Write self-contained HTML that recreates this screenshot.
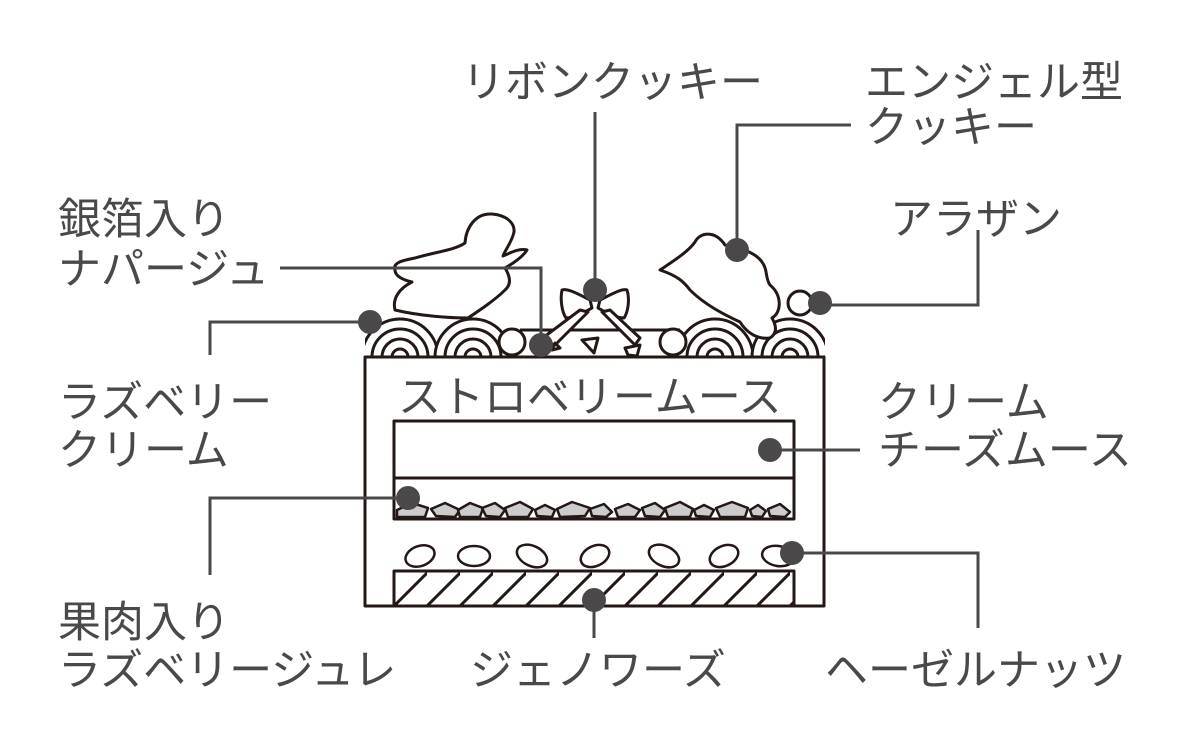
<!DOCTYPE html>
<html><head><meta charset="utf-8"><style>
html,body{margin:0;padding:0;background:#fff;}
svg{display:block;}
text{font-family:"Liberation Sans","Noto Sans CJK JP",sans-serif;font-size:43px;fill:#4a4848;}
</style></head><body>
<svg width="1200" height="752" viewBox="0 0 1200 752" xmlns="http://www.w3.org/2000/svg">
<defs>
<pattern id="hatch" patternUnits="userSpaceOnUse" width="33" height="40" patternTransform="translate(394,571)">
<line x1="-5" y1="40" x2="35" y2="0" stroke="#231815" stroke-width="3"/>
<line x1="28" y1="40" x2="68" y2="0" stroke="#231815" stroke-width="3"/>
</pattern>
<clipPath id="topclip"><rect x="365" y="250" width="460" height="107"/></clipPath>
</defs>
<g fill="none" stroke="#231815" stroke-width="3" stroke-linejoin="round">
<line x1="520" y1="330" x2="680" y2="330"/>
<g clip-path="url(#topclip)" fill="#fff">
<g><path d="M362 357 A38 38 0 0 1 438 357Z"/><path d="M372 357 A28 28 0 0 1 428 357"/><path d="M382 357 A18 18 0 0 1 418 357"/><path d="M392 357 A8 8 0 0 1 408 357"/></g>
<g><path d="M435 357 A38 38 0 0 1 511 357Z"/><path d="M445 357 A28 28 0 0 1 501 357"/><path d="M455 357 A18 18 0 0 1 491 357"/><path d="M465 357 A8 8 0 0 1 481 357"/></g>
<g><path d="M677 357 A38 38 0 0 1 753 357Z"/><path d="M687 357 A28 28 0 0 1 743 357"/><path d="M697 357 A18 18 0 0 1 733 357"/><path d="M707 357 A8 8 0 0 1 723 357"/></g>
<g><path d="M752 357 A38 38 0 0 1 828 357Z"/><path d="M762 357 A28 28 0 0 1 818 357"/><path d="M772 357 A18 18 0 0 1 808 357"/><path d="M782 357 A8 8 0 0 1 798 357"/></g>
</g>
<path fill="#fff" d="M395 270 C392 262 405 260 415 258 C435 252 455 250 465 243 C466 228 475 213 492 214 C505 215 515 222 514 232 C512 242 505 250 503 256 C512 252 520 248 527 250 C522 258 512 264 505 268 C510 276 512 284 505 290 C495 300 480 310 468 318 C450 318 420 316 395 310 C392 298 400 288 412 282 C403 280 395 276 395 270Z"/>
<path fill="#fff" d="M660 270 C672 262 688 252 695 242 C700 232 715 230 725 245 C740 248 755 252 762 262 C768 270 765 278 770 285 C782 295 782 312 772 318 C776 325 778 333 770 338 C755 340 745 330 740 322 C725 315 705 305 690 290 C684 282 678 276 660 270Z"/>
<path fill="#fff" d="M590 300 C580 295 568 288 562 290 C560 300 562 312 566 318 C575 318 585 312 592 308Z"/>
<path fill="#fff" d="M600 300 C610 295 622 288 627 290 C630 300 628 312 624 318 C615 318 605 312 598 308Z"/>
<path fill="#fff" d="M588 312 L555 345 L540 340 L580 310Z"/>
<path fill="#fff" d="M602 312 L635 345 L640 338 L610 310Z"/>
<path d="M555 343 L560 348 L552 350Z M582 340 L598 338 L594 353Z M625 348 L640 345 L637 356 L628 355Z"/>
<circle cx="512" cy="342" r="13" fill="#fff"/>
<circle cx="673" cy="342" r="13" fill="#fff"/>
<circle cx="800" cy="303" r="12" fill="#fff"/>
<rect x="365" y="357" width="459" height="249" fill="#fff"/>
<rect x="394" y="421" width="400" height="98"/>
<line x1="394" y1="478" x2="794" y2="478"/>
<rect x="394" y="571" width="400" height="35" fill="url(#hatch)"/>
<g fill="#ccc" stroke-width="2.5">
<path d="M397 510 L412 503 L428 508 L425 517 L397 517Z"/>
<path d="M431 509 L445 503 L460 510 L455 517 L436 516Z"/>
<path d="M458 510 L470 503 L483 508 L480 517 L460 517Z"/>
<path d="M482 508 L495 503 L505 510 L500 517 L486 516Z"/>
<path d="M505 508 L520 502 L533 509 L528 517 L508 517Z"/>
<path d="M535 510 L545 505 L555 510 L552 517 L537 516Z"/>
<path d="M557 509 L572 502 L590 508 L585 516 L560 517Z"/>
<path d="M590 509 L604 504 L612 512 L606 517 L592 516Z"/>
<path d="M615 509 L628 504 L640 510 L635 517 L618 517Z"/>
<path d="M642 508 L655 503 L665 510 L660 517 L645 516Z"/>
<path d="M665 508 L680 502 L693 509 L690 517 L668 517Z"/>
<path d="M694 510 L704 505 L714 510 L710 517 L696 516Z"/>
<path d="M716 508 L732 502 L748 508 L745 517 L720 517Z"/>
<path d="M750 510 L758 505 L766 511 L762 517 L752 516Z"/>
<path d="M768 509 L780 504 L790 512 L785 517 L770 516Z"/>
</g>
<g fill="#fff" stroke-width="2.5">
<ellipse cx="420" cy="556" rx="15" ry="10" transform="rotate(-20 420 556)"/>
<ellipse cx="474" cy="556" rx="16" ry="10"/>
<ellipse cx="532" cy="556" rx="16" ry="10" transform="rotate(25 532 556)"/>
<ellipse cx="595" cy="556" rx="15" ry="10" transform="rotate(-25 595 556)"/>
<ellipse cx="664" cy="556" rx="16" ry="10" transform="rotate(25 664 556)"/>
<ellipse cx="724" cy="556" rx="15" ry="10" transform="rotate(-25 724 556)"/>
<ellipse cx="778" cy="556" rx="16" ry="10" transform="rotate(10 778 556)"/>
</g>
</g>
<g fill="none" stroke="#4a4848" stroke-width="3">
<path d="M595 112 V290"/>
<path d="M851 125 H737 V250"/>
<path d="M978 230 V305 H820"/>
<path d="M280 268 H541 V345"/>
<path d="M370 322 H210 V355"/>
<path d="M770 450 H860"/>
<path d="M408 498 H210 V575"/>
<path d="M792 553 H978 V628"/>
<path d="M594 600 V638"/>
</g>
<g fill="#4a4848">
<circle cx="595" cy="290" r="12"/>
<circle cx="737" cy="250" r="12"/>
<circle cx="820" cy="303" r="12"/>
<circle cx="541" cy="345" r="12"/>
<circle cx="370" cy="322" r="12"/>
<circle cx="770" cy="450" r="12"/>
<circle cx="408" cy="498" r="12"/>
<circle cx="792" cy="553" r="12"/>
<circle cx="594" cy="600" r="12"/>
</g>
<text x="462" y="97">リボンクッキー</text>
<text x="865" y="97">エンジェル型</text>
<text x="865" y="142">クッキー</text>
<text x="58" y="234">銀箔入り</text>
<text x="58" y="284">ナパージュ</text>
<text x="890" y="234">アラザン</text>
<text x="398" y="412">ストロベリームース</text>
<text x="58" y="417">ラズベリー</text>
<text x="58" y="465">クリーム</text>
<text x="878" y="417">クリーム</text>
<text x="878" y="465">チーズムース</text>
<text x="58" y="637">果肉入り</text>
<text x="58" y="685">ラズベリージュレ</text>
<text x="470" y="685">ジェノワーズ</text>
<text x="825" y="685">ヘーゼルナッツ</text>
</svg>
</body></html>
